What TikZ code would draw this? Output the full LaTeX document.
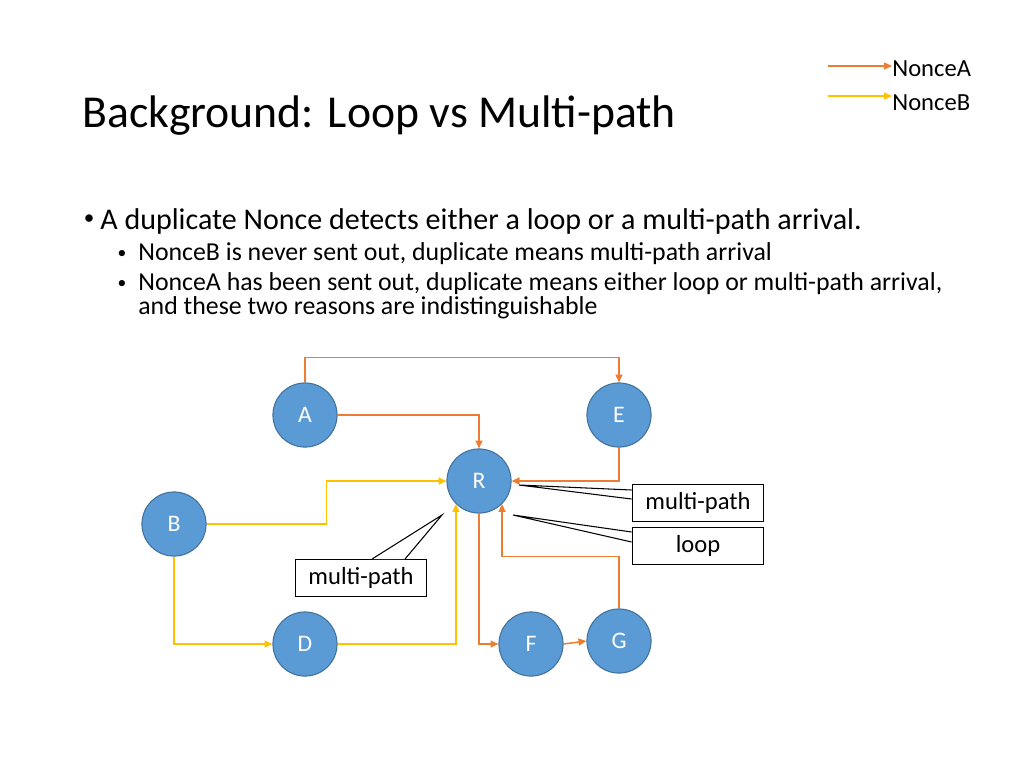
\documentclass[tikz,border=0pt]{standalone}
\usepackage{fontspec}
\setmainfont{Carlito}
\usepackage{xcolor}
\usetikzlibrary{arrows.meta}

\definecolor{routerblue}{HTML}{5B9BD5}
\definecolor{routeredge}{HTML}{41719C}
\definecolor{nonceA}{HTML}{ED7D31}
\definecolor{nonceB}{HTML}{FFC000}

\tikzset{
    router/.style={circle, fill=routerblue, draw=routeredge, line width=0.6pt, minimum size=36.5pt, inner sep=0pt, text=white, font=\fontsize{13.5}{16}\selectfont},
    pathA/.style={draw=nonceA, line width=0.85pt, -{Triangle[length=4.5pt, width=4pt]}},
    pathB/.style={draw=nonceB, line width=0.85pt, -{Triangle[length=4.5pt, width=4pt]}},
    tag/.style={draw=black, fill=white, line width=0.6pt, minimum width=75pt, minimum height=21pt, inner sep=0pt, font=\fontsize{14}{16}\selectfont},
    pointer/.style={draw=black, fill=white, line width=0.6pt},
    txt/.style={anchor=base west, inner sep=0pt},
    bigtxt/.style={txt, font=\fontsize{17.1}{20}\selectfont},
    smalltxt/.style={txt, font=\fontsize{14.7}{17}\selectfont},
    bigdot/.style={inner sep=0pt, font=\fontsize{12}{14}\selectfont},
    smalldot/.style={inner sep=0pt, font=\fontsize{10}{12}\selectfont},
}

\begin{document}
\begin{tikzpicture}[x=0.02cm, y=-0.02cm]
    \fill[white] (0,0) rectangle (1024,768);
    \useasboundingbox (0,0) rectangle (1024,768);

    \node[txt, font=\fontsize{26}{30}\selectfont] (title) at (82,127) {Background: Loop vs Multi-path};

    \node[txt, font=\fontsize{14}{16}\selectfont] (keyA) at (892,76) {NonceA};
    \node[txt, font=\fontsize{14}{16}\selectfont] (keyB) at (892,110) {NonceB};
    \coordinate (keyAstart) at (828,66);
    \coordinate (keyBstart) at (828,96);
    \draw[pathA, line width=0.7pt] (keyAstart) -- (keyAstart -| keyA.west);
    \draw[pathB, line width=0.7pt] (keyBstart) -- (keyBstart -| keyB.west);

    \node[bigdot] (dot1) at (89,220) {\textbullet};
    \node[bigtxt] (item1) at (100,229) {A duplicate Nonce detects either a loop or a multi-path arrival.};
    \node[smalldot] (dot2) at (122,254) {\textbullet};
    \node[smalltxt] (item2) at (138,260) {NonceB is never sent out, duplicate means multi-path arrival};
    \node[smalldot] (dot3) at (122,284) {\textbullet};
    \node[smalltxt] (item3) at (138,290) {NonceA has been sent out, duplicate means either loop or multi-path arrival,};
    \node[smalltxt] (item3b) at (138,314) {and these two reasons are indistinguishable};

    \node[router] (A) at (305,415) {A};
    \node[router] (E) at (619,415) {E};
    \node[router] (R) at (479,481) {R};
    \node[router] (B) at (174,524) {B};
    \node[router] (D) at (305,644) {D};
    \node[router] (F) at (531,644) {F};
    \node[router] (G) at (619,641) {G};

    \draw[pathA] (A.north) -- ++(0,-25) -| (E.north);
    \draw[pathA] (A.east) -| (R.north);
    \draw[pathA] (E.south) |- (R.east);
    \draw[pathB] (B.east) -- ++(120,0) |- (R.west);
    \draw[pathB] (B.south) |- (D.west);
    \draw[pathB] (D.east) -| (R.south west);
    \draw[pathA] (R.south) |- (F.west);
    \draw[pathA] (F.east) -- (G.west);
    \draw[pathA] (G.north) -- ++(0,-52) -| (R.south east);

    \node[tag] (multiR) at (698,503) {multi-path};
    \node[tag] (loopR) at (698,546) {loop};
    \node[tag] (multiL) at (361,578) {multi-path};
    \coordinate (tipmultiR) at (519,485);
    \coordinate (tiploopR) at (513,515);
    \coordinate (tipmultiL) at (442,515);

    \filldraw[pointer] ([shift={(0,-13)}]multiR.west) -- (tipmultiR) -- ([shift={(0,-4)}]multiR.west);
    \filldraw[pointer] ([shift={(0,-14)}]loopR.west) -- (tiploopR) -- ([shift={(0,-4)}]loopR.west);
    \filldraw[pointer] ([shift={(11,0)}]multiL.north) -- (tipmultiL) -- ([shift={(44,0)}]multiL.north);
\end{tikzpicture}
\end{document}
